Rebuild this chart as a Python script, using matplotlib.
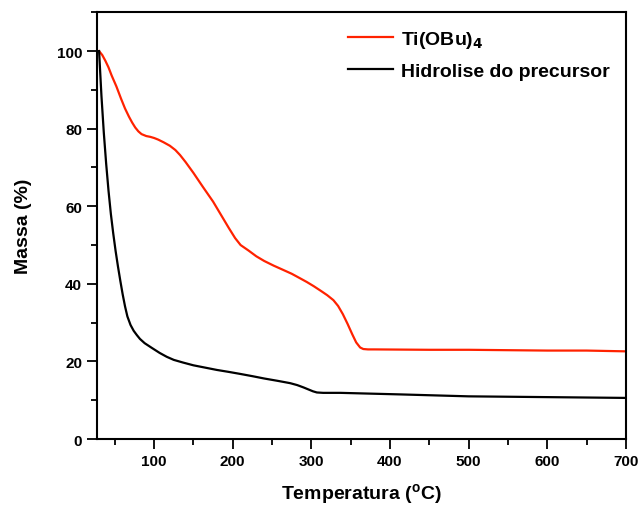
import matplotlib.pyplot as plt
from matplotlib.ticker import MultipleLocator

plt.rcParams['font.family'] = ['Liberation Sans', 'DejaVu Sans']
plt.rcParams['font.weight'] = 'bold'

# Ti(OBu)4
temp_ti = [30, 34, 38, 42, 46, 52, 58, 63, 68, 72, 76, 80, 84, 90, 95, 100, 105, 112, 120,
           127, 133, 140, 150, 162, 175, 185, 195, 203, 210, 220, 230, 240, 252, 263, 275,
           285, 294, 303, 312, 320, 328, 334, 340, 346, 352, 357, 362, 366, 372, 380, 450,
           500, 550, 600, 650, 700]
massa_ti = [100, 99.0, 97.5, 95.8, 93.7, 90.9, 87.7, 85.2, 83.1, 81.6, 80.3, 79.3, 78.6,
            78.1, 77.9, 77.6, 77.2, 76.5, 75.6, 74.5, 73.2, 71.4, 68.6, 65.0, 61.2, 57.8,
            54.4, 51.8, 50.0, 48.6, 47.1, 45.9, 44.7, 43.7, 42.6, 41.5, 40.5, 39.4, 38.2,
            37.1, 35.8, 34.3, 32.2, 29.7, 27.0, 24.9, 23.6, 23.2, 23.1, 23.1, 23.0, 23.0,
            22.9, 22.8, 22.8, 22.6]

# Hidrolise do precursor
temp_hid = [30, 33, 36, 39, 42, 45, 48, 51, 54, 57, 60, 63, 66, 70, 74, 78, 82, 88, 97,
            107, 116, 125, 137, 150, 165, 180, 195, 209, 225, 240, 257, 273, 282, 290, 296,
            302, 307, 315, 337, 413, 500, 600, 698]
massa_hid = [100, 88.5, 79.0, 71.0, 64.0, 58.0, 53.0, 48.5, 44.5, 40.8, 37.3, 34.2, 31.6,
             29.4, 27.9, 26.8, 25.8, 24.7, 23.5, 22.2, 21.2, 20.4, 19.7, 19.0, 18.4, 17.8,
             17.3, 16.8, 16.2, 15.6, 15.0, 14.4, 13.9, 13.3, 12.8, 12.3, 12.0, 11.9, 11.9,
             11.5, 11.0, 10.8, 10.6]

fig = plt.figure(figsize=(6.38, 5.06), dpi=100)
ax = fig.add_axes([0.1516, 0.1304, 0.8294, 0.8433])

ax.plot(temp_ti, massa_ti, color='#ff2200', lw=1.6, label='Ti(OBu)$_\\mathbf{4}$')
ax.plot(temp_hid, massa_hid, color='black', lw=1.6, label='Hidrolise do precursor')

ax.set_xlim(27, 700)
ax.set_ylim(0, 110)
ax.xaxis.set_major_locator(MultipleLocator(100))
ax.xaxis.set_minor_locator(MultipleLocator(50))
ax.yaxis.set_major_locator(MultipleLocator(20))
ax.yaxis.set_minor_locator(MultipleLocator(10))
ax.tick_params(which='both', direction='out', top=False, right=False, labelsize=11, width=1.3)
ax.tick_params(which='major', length=7)
ax.tick_params(which='minor', length=4)
for s in ax.spines.values():
    s.set_linewidth(1.5)

ax.set_xlabel('Temperatura ($^\\mathregular{o}$C)', fontsize=14, fontweight='bold', labelpad=10)
ax.set_ylabel('Massa (%)', fontsize=14, fontweight='bold', labelpad=18)

ax.legend(loc='upper right', frameon=False, fontsize=14, handlelength=2.3,
          handletextpad=0.4, labelspacing=0.62, borderaxespad=0.45,
          bbox_to_anchor=(1.0, 1.0))

fig.savefig('out.png', dpi=100)
